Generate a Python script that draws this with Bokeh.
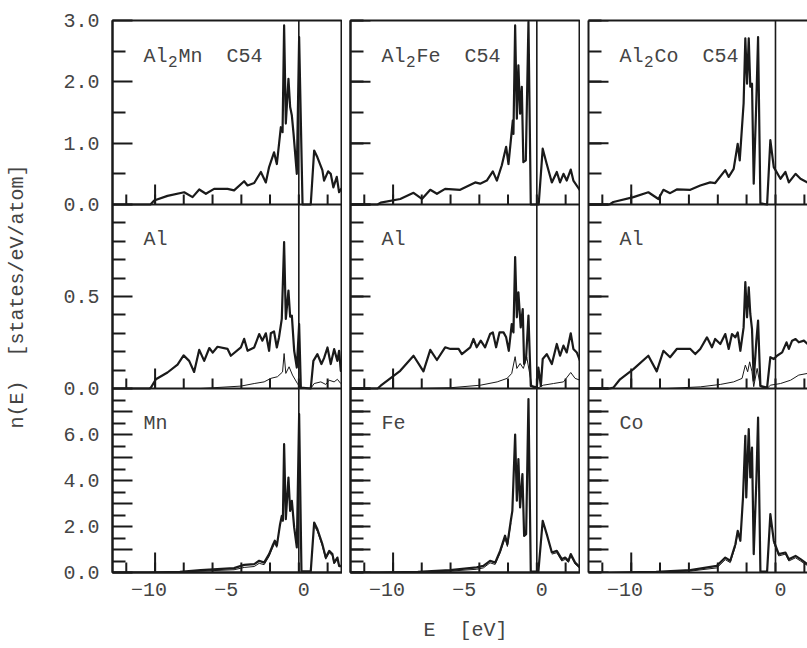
import math
from bokeh.plotting import figure
from bokeh.models import (Range1d, LinearAxis, FixedTicker, CustomJSTickFormatter,
                          Span, Label)
from bokeh.layouts import row
from bokeh.embed import file_html
from bokeh.resources import INLINE

NAN = float("nan")

# ---------------- data ----------------
# top row: total DOS of the compounds
mn_tot_E = [-12.35, -9.9, -9.66, -8.8, -7.72, -7.18, -6.75, -6.32, -5.79, -4.92, -4.5, -3.85, -3.63, -3.2,
            -2.77, -2.45, -2.24, -1.92, -1.74, -1.48, -1.37, -1.27, -1.16, -0.99, -0.88, -0.77, -0.66,
            -0.45, -0.3, -0.08, 0.45, 0.67, 0.88, 1.2, 1.31, 1.57, 1.74, 1.91, 2.13, 2.28, 2.43, 2.5]
mn_tot_n = [0, 0, 0.065, 0.14, 0.20, 0.12, 0.245, 0.175, 0.255, 0.255, 0.23, 0.38, 0.31, 0.35,
            0.53, 0.36, 0.61, 0.85, 0.66, 1.26, 1.18, 2.92, 1.32, 2.05, 1.59, 1.45, 1.15,
            0.50, 2.73, 0.0, 0.0, 0.88, 0.77, 0.56, 0.39, 0.54, 0.50, 0.28, 0.45, 0.20, 0.26, 0.2]

fe_tot_E = [-12.35, -10.6, -10.4, -9.14, -8.28, -7.74, -7.2, -6.77, -6.24, -5.27, -4.3, -3.98, -3.55,
            -3.16, -2.9, -2.58, -2.3, -2.15, -1.87, -1.83, -1.72, -1.61, -1.51, -1.4, -1.29, -1.19,
            -1.03, -0.86, -0.71, -0.2, 0.06, 0.32, 0.65, 0.97, 1.18, 1.4, 1.61, 1.87, 2.04, 2.47]
fe_tot_n = [0, 0, 0.03, 0.09, 0.19, 0.09, 0.24, 0.175, 0.255, 0.24, 0.36, 0.34, 0.39,
            0.54, 0.39, 0.64, 0.94, 0.66, 1.37, 1.15, 2.92, 1.40, 2.27, 1.48, 1.92, 0.69,
            0.72, 2.98, 0.0, 0.0, 0.91, 0.66, 0.36, 0.53, 0.36, 0.50, 0.39, 0.57, 0.39, 0.23]

co_tot_E = [-12.35, -11.0, -10.75, -9.46, -8.5, -7.85, -7.53, -7.1, -6.67, -5.8, -5.16, -4.52, -4.2,
            -3.55, -3.33, -3.01, -2.75, -2.62, -2.37, -2.26, -2.15, -2.04, -1.94, -1.83, -1.72,
            -1.55, -1.44, -1.29, -0.86, -0.65, -0.43, 0, 0.32, 0.54, 0.97, 1.29, 1.74]
co_tot_n = [0, 0, 0.04, 0.12, 0.2, 0.09, 0.24, 0.185, 0.245, 0.24, 0.31, 0.36, 0.35,
            0.56, 0.45, 0.58, 0.99, 0.72, 1.65, 2.71, 1.97, 2.71, 1.92, 1.97, 0.34,
            1.70, 2.73, 0.02, 0.0, 1.05, 0.61, 0.42, 0.53, 0.36, 0.5, 0.42, 0.36]

# middle row: Al site DOS (thick) and its smaller component (thin)
al_mn_E = [-12.35, -9.95, -9.87, -9.55, -8.8, -8.15, -7.76, -7.4, -7.08, -6.75, -6.43, -6.1, -5.88,
           -5.57, -4.92, -4.71, -4.06, -3.85, -3.63, -3.2, -2.88, -2.67, -2.45, -2.24, -2.13, -1.92,
           -1.74, -1.6, -1.42, -1.27, -1.16, -0.99, -0.88, -0.77, -0.62, -0.45, -0.3, -0.19, 0.45,
           0.62, 0.88, 1.14, 1.31, 1.53, 1.74, 1.96, 2.17, 2.28, 2.39, 2.5]
al_mn_n = [0, 0, 0.005, 0.05, 0.087, 0.13, 0.18, 0.15, 0.09, 0.21, 0.15, 0.22, 0.195,
           0.227, 0.215, 0.178, 0.223, 0.27, 0.205, 0.223, 0.296, 0.26, 0.30, 0.205, 0.30, 0.31,
           0.223, 0.277, 0.378, 0.796, 0.378, 0.532, 0.39, 0.396, 0.205, 0.114, 0.35, 0.005, 0.0,
           0.15, 0.187, 0.133, 0.165, 0.223, 0.133, 0.214, 0.15, 0.205, 0.096, 0.13]
al_mn_thin_E = [-12.35, -6.65, -4.06, -3.2, -2.56, -2.13, -1.7, -1.37, -1.27, -1.16, -0.95, -0.73,
                -0.41, -0.19, 0.45, 0.67, 1.1, 1.42, 1.64, 1.96, 2.17, 2.39, 2.5]
al_mn_thin_n = [0, 0, 0.013, 0.027, 0.036, 0.055, 0.064, 0.09, 0.19, 0.082, 0.118, 0.073,
                0.027, 0, 0, 0.027, 0.036, 0.022, 0.045, 0.036, 0.05, 0.027, 0.036]

al_fe_E = [-12.35, -10.6, -10.4, -9.14, -8.28, -7.64, -7.2, -6.77, -6.24, -5.9, -5.37, -5.16, -4.62,
           -4.41, -4.2, -3.94, -3.66, -3.34, -3.16, -2.95, -2.73, -2.47, -2.3, -2.13, -1.94, -1.83,
           -1.72, -1.61, -1.51, -1.36, -1.23, -1.14, -1.01, -0.86, -0.71, -0.32, -0.22, -0.06, 0.06,
           0.32, 0.65, 0.97, 1.18, 1.4, 1.61, 1.87, 2.04, 2.26, 2.47]
al_fe_n = [0, 0, 0.015, 0.096, 0.178, 0.093, 0.21, 0.155, 0.224, 0.215, 0.215, 0.187, 0.224,
           0.269, 0.224, 0.26, 0.224, 0.296, 0.305, 0.224, 0.305, 0.305, 0.278, 0.205, 0.35, 0.305,
           0.714, 0.387, 0.523, 0.332, 0.432, 0.133, 0.17, 0.396, 0.014, 0.005, 0.114, 0.014, 0.16,
           0.187, 0.133, 0.242, 0.178, 0.233, 0.196, 0.3, 0.215, 0.196, 0.15]
al_fe_thin_E = [-12.35, -8.07, -5.9, -3.96, -2.88, -2.24, -1.94, -1.72, -1.61, -1.4, -1.19, -0.97,
                -0.63, -0.32, 0.1, 0.75, 1.4, 1.87, 2.15, 2.47]
al_fe_thin_n = [0, 0, 0.004, 0.018, 0.036, 0.055, 0.082, 0.173, 0.109, 0.136, 0.109, 0.17,
                0.01, 0, 0.018, 0.027, 0.036, 0.087, 0.055, 0.045]

al_co_E = [-12.35, -11.0, -10.75, -10.32, -9.46, -8.5, -7.96, -7.53, -7.1, -6.67, -5.8, -5.48, -5.16,
           -4.73, -4.41, -4.2, -3.87, -3.55, -3.33, -3.12, -2.9, -2.75, -2.58, -2.37, -2.26, -2.15,
           -2.04, -1.94, -1.83, -1.72, -1.55, -1.44, -1.29, -0.86, -0.65, -0.43, -0.22, 0.11, 0.39,
           0.54, 0.75, 0.97, 1.18, 1.51, 1.74]
al_co_n = [0, 0, 0.005, 0.05, 0.105, 0.178, 0.093, 0.205, 0.17, 0.215, 0.215, 0.187, 0.215,
           0.278, 0.224, 0.269, 0.242, 0.296, 0.215, 0.296, 0.278, 0.305, 0.205, 0.332, 0.578, 0.387,
           0.55, 0.405, 0.323, 0.042, 0.26, 0.369, 0.014, 0.005, 0.17, 0.16, 0.178, 0.196, 0.251,
           0.215, 0.26, 0.269, 0.251, 0.26, 0.242]
al_co_thin_E = [-12.35, -7.3, -5.16, -3.87, -3.01, -2.47, -2.26, -2.11, -1.98, -1.83, -1.72, -1.5,
                -1.29, -0.86, -0.65, 0, 0.65, 1.18, 1.74]
al_co_thin_n = [0, 0, 0.009, 0.022, 0.036, 0.055, 0.127, 0.091, 0.145, 0.091, 0.01, 0.109,
                0.01, 0, 0.018, 0.027, 0.045, 0.073, 0.082]

# bottom row: transition-metal site DOS (thick) and its main component (thin)
mn_E = [-12.35, -10.0, -8.0, -6.65, -4.5, -3.85, -3.2, -2.88, -2.56, -2.24, -2.02, -1.87, -1.74,
        -1.53, -1.42, -1.35, -1.27, -1.16, -0.99, -0.88, -0.77, -0.62, -0.45, -0.3, -0.15, 0.45,
        0.67, 0.88, 1.2, 1.42, 1.64, 1.85, 1.96, 2.17, 2.28, 2.5]
mn_n = [0, 0.0, 0.03, 0.1, 0.19, 0.33, 0.36, 0.51, 0.43, 0.80, 1.16, 1.38, 1.16,
        2.1, 2.46, 2.25, 5.58, 2.32, 4.13, 2.68, 3.12, 1.96, 1.09, 6.89, 0.05, 0.05,
        2.17, 1.88, 1.23, 0.65, 0.94, 0.8, 0.43, 0.65, 0.29, 0.29]
mn_thin_E = [-12.35, -10.0, -8.0, -6.65, -4.5, -3.85, -3.2, -2.88, -2.56, -2.24, -2.02, -1.87, -1.74,
             NAN, 0.67, 0.88, 1.2, 1.42, 1.64, 1.85, 1.96, 2.17, 2.28, 2.5]
mn_thin_n = [0, 0, 0.02, 0.06, 0.12, 0.22, 0.26, 0.40, 0.34, 0.70, 1.06, 1.28, 1.08,
             NAN, 2.05, 1.78, 1.15, 0.58, 0.86, 0.73, 0.38, 0.58, 0.25, 0.25]

fe_E = [-12.35, -10.5, -8.0, -5.92, -4.2, -3.77, -3.34, -3.01, -2.69, -2.37, -2.22, -2.0, -1.9, -1.72,
        -1.61, -1.51, -1.4, -1.25, -1.14, -1.01, -0.86, -0.71, -0.22, 0.06, 0.32, 0.65, 0.97, 1.29,
        1.51, 1.72, 1.87, 2.15, 2.47]
fe_n = [0, 0, 0.03, 0.1, 0.22, 0.29, 0.51, 0.43, 0.94, 1.6, 1.23, 2.25, 2.68, 6.0,
        3.12, 4.93, 2.83, 4.28, 1.59, 1.67, 7.54, 0.04, 0.04, 2.25, 1.67, 0.87, 0.94, 0.58,
        0.65, 0.51, 0.8, 0.43, 0.22]
fe_thin_E = [-12.35, -10.5, -8.0, -5.92, -4.2, -3.77, -3.34, -3.01, -2.69, -2.37, -2.22, -2.0,
             NAN, 0.65, 0.97, 1.29, 1.51, 1.72, 1.87, 2.15, 2.47]
fe_thin_n = [0, 0, 0.02, 0.06, 0.14, 0.2, 0.42, 0.35, 0.84, 1.5, 1.13, 2.15,
             NAN, 0.8, 0.86, 0.5, 0.57, 0.44, 0.72, 0.37, 0.18]

co_E = [-12.35, -11.0, -8.0, -5.8, -4.09, -3.55, -3.23, -2.9, -2.75, -2.58, -2.41, -2.26, -2.2, -2.04,
        -1.94, -1.83, -1.72, -1.55, -1.44, -1.29, -0.86, -0.65, -0.43, -0.11, 0.32, 0.54, 0.97,
        1.29, 1.74]
co_n = [0, 0, 0.03, 0.1, 0.29, 0.65, 0.51, 1.23, 1.81, 1.38, 3.26, 5.94, 3.26, 6.23,
        4.13, 5.43, 0.8, 3.99, 6.74, 0.04, 0.04, 2.54, 1.38, 0.8, 0.87, 0.58, 0.72,
        0.58, 0.36]
co_thin_E = [-12.35, -11.0, -8.0, -5.8, -4.09, -3.55, -3.23, -2.9, -2.75,
             NAN, -0.43, -0.11, 0.32, 0.54, 0.97, 1.29, 1.74]
co_thin_n = [0, 0, 0.02, 0.06, 0.2, 0.56, 0.43, 1.13, 1.71,
             NAN, 1.3, 0.72, 0.8, 0.5, 0.64, 0.5, 0.3]

# tick values / labels
x_tick_labels = [-10, -5, 0]
fermi_E = -0.32
edge_ticks_E = [-11.46, -9.6, -7.75, -5.89, -4.03, -2.18, -0.32, 1.54]
band_bottom_E = -9.6
row_max = {"top": 3.0, "mid": 1.0, "bot": 8.0}
row_base = {"top": 2, "mid": 1, "bot": 0}
y_major = {"top": [0, 1, 2, 3], "mid": [0, 0.5, 1.0], "bot": [0, 1, 2, 3, 4, 5, 6, 7, 8]}
y_minor = {"top": [0.5, 1.5, 2.5], "mid": [0.1, 0.2, 0.3, 0.4, 0.6, 0.7, 0.8, 0.9],
           "bot": [0.5, 1.5, 2.5, 3.5, 4.5, 5.5, 6.5, 7.5]}
y_labelled = {"top": [0, 1, 2, 3], "mid": [0, 0.5], "bot": [0, 2, 4, 6]}

SP2 = "\u00a0 "   # two visible spaces (SVG would collapse a plain double space)
titles_top = [("Al", "2", "Mn" + SP2 + "C54"), ("Al", "2", "Fe" + SP2 + "C54"), ("Al", "2", "Co" + SP2 + "C54")]
titles_mid = ["Al", "Al", "Al"]
titles_bot = ["Mn", "Fe", "Co"]
y_title = "n(E)" + SP2 + "[states/eV/atom]"
x_title = "E" + SP2 + "[eV]"

curves = {
    0: {"top": [(mn_tot_E, mn_tot_n, 2.2)],
        "mid": [(al_mn_E, al_mn_n, 2.2), (al_mn_thin_E, al_mn_thin_n, 1.0)],
        "bot": [(mn_thin_E, mn_thin_n, 1.0), (mn_E, mn_n, 2.2)]},
    1: {"top": [(fe_tot_E, fe_tot_n, 2.2)],
        "mid": [(al_fe_E, al_fe_n, 2.2), (al_fe_thin_E, al_fe_thin_n, 1.0)],
        "bot": [(fe_thin_E, fe_thin_n, 1.0), (fe_E, fe_n, 2.2)]},
    2: {"top": [(co_tot_E, co_tot_n, 2.2)],
        "mid": [(al_co_E, al_co_n, 2.2), (al_co_thin_E, al_co_thin_n, 1.0)],
        "bot": [(co_thin_E, co_thin_n, 1.0), (co_E, co_n, 2.2)]},
}

# ---------------- styling ----------------
FONT = "Liberation Mono"
TXT = "#444444"
LC = "#1a1a1a"
X_START, X_END, X_END_RIGHT = -12.35, 2.5, 1.74


def panel_pos(key, v):
    return row_base[key] + v / row_max[key]


# y ticks in "panel units" of the default range (0..3)
maj_pos, min_pos, lab_pos, lab_txt = [], [], [], []
for key in ["top", "mid", "bot"]:
    for v in y_major[key]:
        q = round(panel_pos(key, v), 9)
        if q not in maj_pos:
            maj_pos.append(q)
    for v in y_minor[key]:
        min_pos.append(round(panel_pos(key, v), 9))
    for v in y_labelled[key]:
        q = round(panel_pos(key, v), 9)
        if q not in lab_pos:
            lab_pos.append(q)
            lab_txt.append("%.1f" % v)


def make_column(col):
    first, last = col == 0, col == 2
    p = figure(frame_width=219 if last else 230, frame_height=552,
               x_range=Range1d(X_START, X_END_RIGHT if last else X_END),
               y_range=Range1d(0, 3),
               min_border_left=112 if first else 8, min_border_right=0,
               min_border_top=20, min_border_bottom=76,
               x_axis_location=None, y_axis_location=None,
               output_backend="svg", toolbar_location=None)
    p.xgrid.visible = False
    p.ygrid.visible = False
    p.background_fill_color = "white"
    p.border_fill_color = "white"
    if last:
        p.outline_line_color = None
    else:
        p.outline_line_color = LC
        p.outline_line_width = 2
        p.outline_line_alpha = 1.0

    for key in ["top", "mid", "bot"]:
        b, m = row_base[key], row_max[key]
        p.extra_y_ranges[key] = Range1d(-b * m, (3 - b) * m)

    # y axis (major ticks long, minor short, all pointing inward)
    if first:
        yticker = FixedTicker(ticks=maj_pos, minor_ticks=min_pos)
    else:
        yticker = FixedTicker(ticks=[], minor_ticks=min_pos + maj_pos)
    yax = LinearAxis(ticker=yticker)
    yax.axis_line_color = LC
    yax.axis_line_width = 2
    yax.major_tick_line_color = LC
    yax.major_tick_line_width = 2
    yax.major_tick_in = 20
    yax.major_tick_out = 0
    yax.minor_tick_line_color = LC
    yax.minor_tick_line_width = 2
    yax.minor_tick_in = 13
    yax.minor_tick_out = 0
    if first:
        yax.formatter = CustomJSTickFormatter(args=dict(pos=lab_pos, txt=lab_txt), code="""
            for (let i = 0; i < pos.length; i++) {
                if (Math.abs(tick - pos[i]) < 1e-6) { return txt[i]; }
            }
            return '';
        """)
        yax.major_label_text_font = FONT
        yax.major_label_text_font_size = "20px"
        yax.major_label_text_color = TXT
        yax.major_label_standoff = 13
        yax.axis_label = y_title
        yax.axis_label_text_font = FONT
        yax.axis_label_text_font_size = "20px"
        yax.axis_label_text_font_style = "normal"
        yax.axis_label_text_color = TXT
        yax.axis_label_standoff = 31
    else:
        yax.major_label_standoff = 0
    p.add_layout(yax, "left")
    if not first:
        # long ticks of the unlabelled panels
        for key in ["top", "mid", "bot"]:
            p.ray(x=[X_START] * len(y_major[key]), y=y_major[key], length=20, length_units="screen",
                  angle=0, line_color=LC, line_width=2, y_range_name=key)

    # x axis
    xax = LinearAxis(ticker=FixedTicker(ticks=x_tick_labels, minor_ticks=[]))
    xax.axis_line_color = LC
    xax.axis_line_width = 2
    xax.major_tick_line_color = None
    xax.major_tick_in = 0
    xax.major_tick_out = 0
    xax.minor_tick_line_color = None
    xax.major_label_text_font = FONT
    xax.major_label_text_font_size = "20px"
    xax.major_label_text_color = TXT
    xax.major_label_standoff = 10
    if col == 1:
        xax.axis_label = x_title
        xax.axis_label_text_font = FONT
        xax.axis_label_text_font_size = "20px"
        xax.axis_label_text_font_style = "normal"
        xax.axis_label_text_color = TXT
        xax.axis_label_standoff = 20
    p.add_layout(xax, "below")

    if last:
        tax = LinearAxis(ticker=FixedTicker(ticks=[], minor_ticks=[]))
        tax.axis_line_color = LC
        tax.axis_line_width = 2
        tax.major_tick_line_color = None
        tax.minor_tick_line_color = None
        tax.major_label_standoff = 0
        p.add_layout(tax, "above")

    # panel separators
    for sep in [1, 2]:
        p.add_layout(Span(location=sep, dimension="width", line_color=LC, line_width=2))
    # Fermi level
    p.add_layout(Span(location=fermi_E, dimension="height", line_color=LC, line_width=1.6))

    for key in ["top", "mid", "bot"]:
        # inward tick marks on the energy axis of each panel
        p.ray(x=edge_ticks_E, y=[0] * len(edge_ticks_E), length=10, length_units="screen",
              angle=math.pi / 2, line_color=LC, line_width=2, y_range_name=key)
        p.ray(x=[band_bottom_E], y=[0], length=20, length_units="screen",
              angle=math.pi / 2, line_color=LC, line_width=2, y_range_name=key)
        for (E, n, w) in curves[col][key]:
            p.line(E, n, line_color=LC, line_width=w, y_range_name=key, line_join="round")

    # panel titles
    lx = -10.35
    a, s, rest = titles_top[col]
    for txt, off, yoff, fs in [(a, 0, 0, "20px"), (s, 24.5, -5, "16px"), (rest, 35, 0, "20px")]:
        p.add_layout(Label(x=lx, y=2.41, x_offset=off, y_offset=yoff, text=txt, y_range_name="top",
                           text_font=FONT, text_font_size=fs, text_color=TXT,
                           text_baseline="alphabetic"))
    p.add_layout(Label(x=lx, y=0.808, text=titles_mid[col], y_range_name="mid",
                       text_font=FONT, text_font_size="20px", text_color=TXT,
                       text_baseline="alphabetic"))
    p.add_layout(Label(x=lx, y=6.49, text=titles_bot[col], y_range_name="bot",
                       text_font=FONT, text_font_size="20px", text_color=TXT,
                       text_baseline="alphabetic"))
    return p


layout = row(make_column(0), make_column(1), make_column(2))
open("out.html", "w").write(file_html(layout, INLINE))
